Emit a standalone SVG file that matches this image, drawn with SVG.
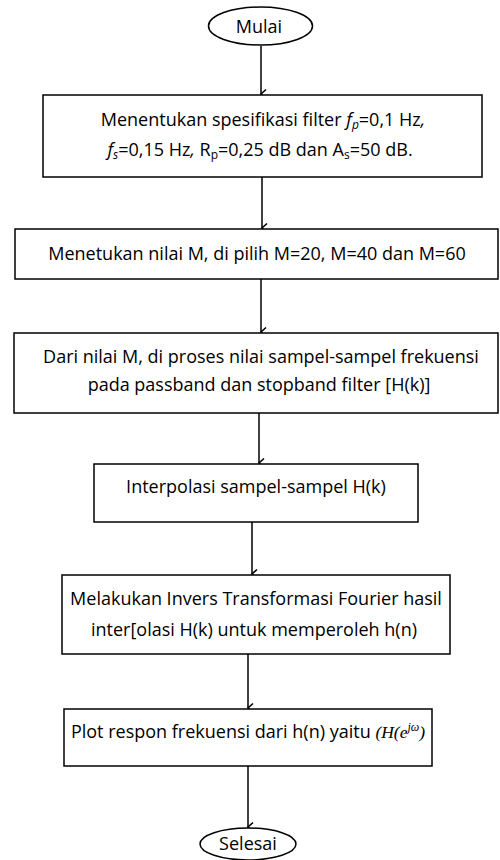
<svg xmlns="http://www.w3.org/2000/svg" width="500" height="860" viewBox="0 0 500 860">
<defs>
<style>
.box{fill:#fff;stroke:#000;stroke-width:1.5}
.t{font-family:"Open Sans","Liberation Sans",sans-serif;font-size:18px;fill:#000;text-anchor:middle}
.c{stroke:#000;stroke-width:1.5;fill:none}
.m{font-family:"Liberation Serif",serif;font-style:italic}
</style>
<marker id="ah" markerUnits="userSpaceOnUse" markerWidth="12" markerHeight="10" refX="5" refY="8" orient="auto-start-reverse" viewBox="0 0 10 10">
<path d="M0.5,3 L5,8 L9.5,3" fill="none" stroke="#000" stroke-width="1.6"/>
</marker>
</defs>
<rect width="500" height="860" fill="#fff"/>
<g id="connectors">
<line class="c" x1="261" y1="46" x2="261" y2="94" marker-end="url(#ah)"/>
<line class="c" x1="262" y1="177" x2="262" y2="228" marker-end="url(#ah)"/>
<line class="c" x1="261" y1="279" x2="261" y2="332" marker-end="url(#ah)"/>
<line class="c" x1="259" y1="413" x2="259" y2="463" marker-end="url(#ah)"/>
<line class="c" x1="252" y1="522" x2="252" y2="574" marker-end="url(#ah)"/>
<line class="c" x1="248" y1="654" x2="248" y2="708" marker-end="url(#ah)"/>
<line class="c" x1="248" y1="766" x2="248" y2="827" marker-end="url(#ah)"/>
</g>
<g id="start">
<ellipse class="box" cx="260.5" cy="26" rx="52" ry="19"/>
<text class="t" x="259" y="33" font-size="17.5">Mulai</text>
</g>
<g id="n1">
<rect class="box" x="43" y="95" width="439" height="82"/>
<text class="t" x="263" y="126" font-size="19">Menentukan spesifikasi filter <tspan font-style="italic">f</tspan><tspan font-style="italic" font-size="12" dy="3">p</tspan><tspan dy="-3">=0,1 Hz</tspan><tspan font-style="italic">,</tspan></text>
<text class="t" x="260" y="156" font-size="19"><tspan font-style="italic">f</tspan><tspan font-style="italic" font-size="12" dy="3">s</tspan><tspan dy="-3">=0,15 Hz</tspan><tspan font-style="italic">,</tspan> R<tspan font-size="12" dy="3">p</tspan><tspan dy="-3">=0,25 dB dan A</tspan><tspan font-size="12" dy="3">s</tspan><tspan dy="-3">=50 dB.</tspan></text>
</g>
<g id="n2">
<rect class="box" x="15" y="229" width="483" height="50"/>
<text class="t" x="257" y="260" font-size="20">Menetukan nilai M, di pilih M=20, M=40 dan M=60</text>
</g>
<g id="n3">
<rect class="box" x="14" y="333" width="484" height="80"/>
<text class="t" x="261" y="363" font-size="17.5">Dari nilai M, di proses nilai sampel-sampel frekuensi</text>
<text class="t" x="259" y="391" font-size="17.5">pada passband dan stopband filter [H(k)]</text>
</g>
<g id="n4">
<rect class="box" x="94" y="464" width="324" height="58"/>
<text class="t" x="256" y="493" font-size="16.5">Interpolasi sampel-sampel H(k)</text>
</g>
<g id="n5">
<rect class="box" x="62" y="575" width="388" height="79"/>
<text class="t" x="256" y="605">Melakukan Invers Transformasi Fourier hasil</text>
<text class="t" x="254" y="636">inter[olasi H(k) untuk memperoleh h(n)</text>
</g>
<g id="n6">
<rect class="box" x="64" y="709" width="368" height="57"/>
<text class="t" x="248" y="738" font-size="17">Plot respon frekuensi dari h(n) yaitu <tspan class="m" font-style="normal" font-size="17.5">(</tspan><tspan class="m" font-size="17.5">H</tspan><tspan class="m" font-style="normal" font-size="17.5">(</tspan><tspan class="m" font-size="17.5">e</tspan><tspan class="m" font-size="12" dy="-7">jω</tspan><tspan class="m" font-style="normal" font-size="17.5" dy="7">)</tspan></text>
</g>
<g id="end">
<ellipse class="box" cx="248" cy="844" rx="48" ry="16"/>
<text class="t" x="248" y="850" font-size="16.5">Selesai</text>
</g>
</svg>
